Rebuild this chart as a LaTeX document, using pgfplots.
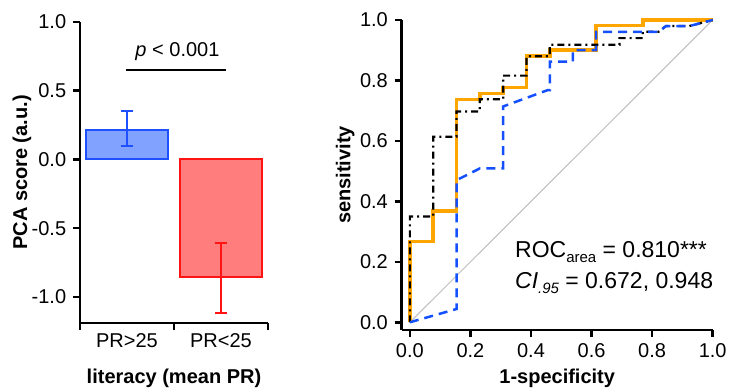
\documentclass[border=0pt]{standalone}
\usepackage{pgfplots}
\pgfplotsset{compat=1.18}
\usepackage{fontspec}
\setmainfont{Liberation Sans}
\definecolor{barblue}{RGB}{30,80,255}
\definecolor{barbluefill}{RGB}{130,162,255}
\definecolor{barred}{RGB}{255,20,20}
\definecolor{barredfill}{RGB}{255,125,125}
\definecolor{roco}{RGB}{255,165,0}
\definecolor{rocb}{RGB}{20,80,255}
\definecolor{diag}{RGB}{190,190,190}
\pgfplotsset{
  myax/.style={
    scale only axis,
    axis lines=left,
    axis line style={-, line width=2.5pt, black},
    tick align=outside,
    major tick length=7pt,
    tick style={line width=2.5pt, black},
    /pgf/number format/assume math mode=true,
    yticklabel style={/pgf/number format/fixed, /pgf/number format/fixed zerofill, /pgf/number format/precision=1},
    xticklabel style={/pgf/number format/fixed, /pgf/number format/fixed zerofill, /pgf/number format/precision=1},
    tick label style={font=\fontsize{20}{24}\selectfont},
    label style={font=\fontsize{20}{24}\selectfont\bfseries},
    clip=false,
  }
}
\begin{document}
\fontsize{20}{24}\selectfont
\begin{tikzpicture}[font=\fontsize{20}{24}\selectfont]
\useasboundingbox (0,0) rectangle (731pt,391pt);
% ---------------- left: bar chart
\begin{axis}[myax,
  at={(80pt,68pt)}, anchor=south west,
  width=188pt, height=301pt,
  xmin=0.5, xmax=2.5, ymin=-1.19, ymax=1.0,
  ytick={-1,-0.5,0,0.5,1},
  xtick={0.5,1.5,2.5}, xticklabels={},
  extra x ticks={1,2},
  extra x tick labels={PR>25,PR<25},
  extra x tick style={major tick length=0pt, tick label style={yshift=-4pt}},
  ylabel={PCA score (a.u.)},
  xlabel={literacy (mean PR)},
  ylabel style={at={(axis description cs:-0.309,0.5)}, anchor=center},
  xlabel style={at={(axis description cs:0.5,-0.183)}, anchor=center},
]
\addplot[ybar, bar width=0.88, bar shift=0pt, draw=barblue, fill=barbluefill, line width=2pt,
  error bars/.cd, y dir=both, y explicit,
  error bar style={line width=2pt, barblue},
  error mark options={rotate=90, mark size=6pt, line width=2pt, barblue}]
  coordinates {(1,0.215) += (0,0.135) -= (0,0.115)};
\addplot[ybar, bar width=0.88, bar shift=0pt, draw=barred, fill=barredfill, line width=2pt,
  error bars/.cd, y dir=both, y explicit,
  error bar style={line width=2pt, barred},
  error mark options={rotate=90, mark size=6pt, line width=2pt, barred}]
  coordinates {(2,-0.853) += (0,0.248) -= (0,0.262)};
\addplot[black, line width=2pt, no marks] coordinates {(0.99,0.65) (2.05,0.65)};
\node at (axis cs:1.537,0.784) {\textit{p} < 0.001};
\end{axis}
% ---------------- right: ROC
\begin{axis}[myax,
  at={(401.7pt,61pt)}, anchor=south west,
  width=311pt, height=310pt,
  xmin=-0.027, xmax=1, ymin=-0.0255, ymax=1,
  xtick={0,0.2,0.4,0.6,0.8,1},
  ytick={0,0.2,0.4,0.6,0.8,1},
  xlabel={1-specificity},
  ylabel={sensitivity},
  ylabel style={at={(axis description cs:-0.182,0.5)}, anchor=center},
  xlabel style={at={(axis description cs:0.5,-0.155)}, anchor=center},
]
\addplot[diag, line width=1pt, no marks] coordinates {(0,0) (1,1)};
\addplot[roco, line width=3.8pt, no marks, line join=miter] coordinates {
(0,0) (0,0.267) (0.077,0.267) (0.077,0.368) (0.154,0.368) (0.154,0.737)
(0.231,0.737) (0.231,0.757) (0.308,0.757) (0.308,0.777) (0.385,0.777)
(0.385,0.880) (0.462,0.880) (0.462,0.900) (0.615,0.900) (0.615,0.982)
(0.769,0.982) (0.769,1) (1,1)};
\addplot[black, line width=2.2pt, no marks, dash pattern=on 7pt off 4pt on 2pt off 4pt] coordinates {
(0,0) (0,0.350) (0.077,0.350) (0.077,0.614) (0.154,0.614) (0.154,0.697)
(0.231,0.697) (0.231,0.738) (0.308,0.738) (0.308,0.816) (0.385,0.816)
(0.385,0.880) (0.462,0.880) (0.462,0.918) (0.692,0.918) (0.692,0.940)
(0.769,0.940) (0.769,0.961) (0.821,0.961) (0.846,0.980) (0.923,0.980) (1,1)};
\addplot[rocb, line width=2.5pt, no marks, dash pattern=on 9pt off 6pt] coordinates {
(0,0) (0.154,0.044) (0.154,0.470) (0.231,0.509) (0.308,0.509) (0.308,0.714)
(0.455,0.768) (0.462,0.768) (0.462,0.862) (0.538,0.862) (0.538,0.900)
(0.615,0.900) (0.615,0.961) (0.821,0.961) (0.846,0.980) (0.923,0.980) (1,1)};
\node[anchor=base west, inner sep=0pt, font=\fontsize{23}{27}\selectfont] at (axis cs:0.347,0.213)
  {ROC\raisebox{-5pt}{\fontsize{15}{17}\selectfont area} = 0.810***};
\node[anchor=base west, inner sep=0pt, font=\fontsize{23}{27}\selectfont] at (axis cs:0.347,0.112)
  {\textit{CI}\raisebox{-5pt}{\fontsize{15}{17}\selectfont\itshape .95} = 0.672, 0.948};
\end{axis}
\end{tikzpicture}
\end{document}
